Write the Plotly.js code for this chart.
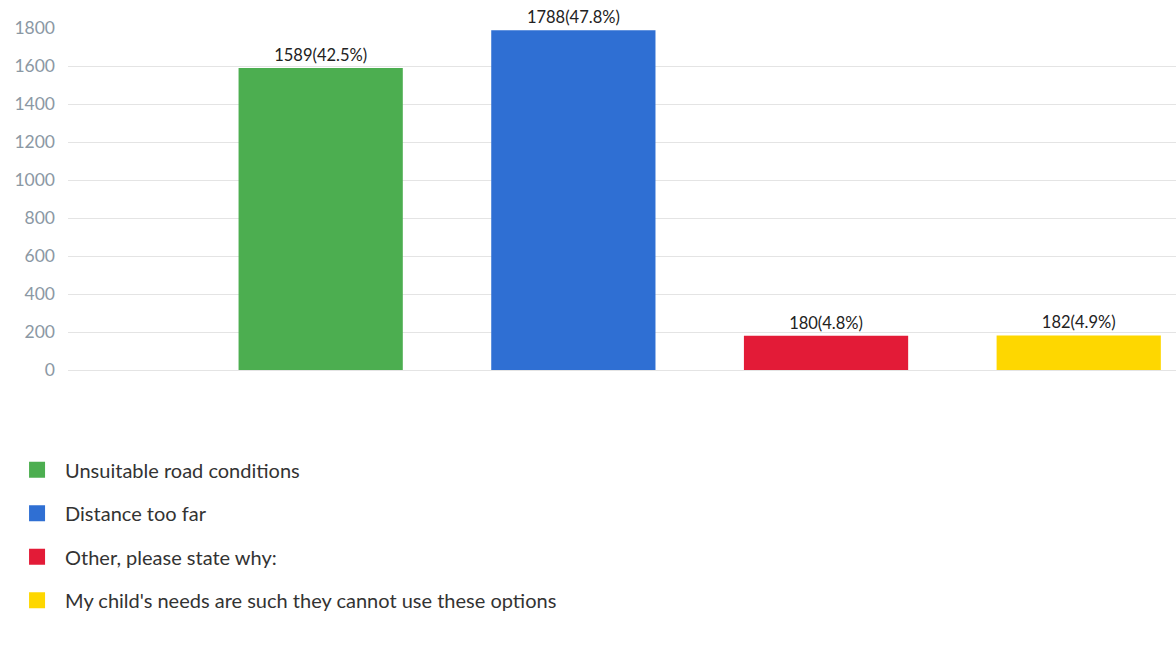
<!DOCTYPE html>
<html>
<head>
<meta charset="utf-8">
<script src="https://cdn.plot.ly/plotly-3.0.1.min.js"></script>
<style>html,body{margin:0;padding:0;background:#fff;}#chart{width:1176px;height:656px;}</style>
</head>
<body>
<div id="chart"></div>
<script>
const categories = ["Unsuitable road conditions", "Distance too far", "Other, please state why:", "My child's needs are such they cannot use these options"];
const counts = [1589, 1788, 180, 182];
const percents = ["42.5%", "47.8%", "4.8%", "4.9%"];
const colors = ["#4cae50", "#2f6fd3", "#e31b37", "#fed700"];
const yTicks = [0, 200, 400, 600, 800, 1000, 1200, 1400, 1600, 1800];

const bars = categories.map((c, i) => ({
  type: "bar",
  name: c,
  x: [c],
  y: [counts[i]],
  text: [counts[i] + "(" + percents[i] + ")"],
  textposition: "outside",
  cliponaxis: false,
  textfont: {family: "Lato, sans-serif", size: 16.5, color: "#222"},
  marker: {color: colors[i]},
  width: 0.65,
  legendgroup: "g" + i,
  showlegend: false,
  hoverinfo: "none"
}));

// legend entries (square swatches) for each category
const legendItems = categories.map((c, i) => ({
  type: "scatter",
  mode: "markers",
  name: c,
  x: [null],
  y: [null],
  marker: {symbol: "square", size: 20, color: colors[i]},
  legendgroup: "g" + i,
  showlegend: true,
  hoverinfo: "none"
}));

const layout = {
  width: 1176,
  height: 656,
  margin: {l: 68, r: 0, t: 28, b: 286},
  paper_bgcolor: "#fff",
  plot_bgcolor: "#fff",
  barmode: "overlay",
  showlegend: true,
  xaxis: {
    type: "category",
    categoryorder: "array",
    categoryarray: categories,
    range: [-1, 3.385],
    showticklabels: false,
    showgrid: false,
    zeroline: false,
    showline: false,
    ticks: ""
  },
  yaxis: {
    range: [0, 1800],
    tickvals: yTicks,
    ticktext: yTicks.map(String),
    showgrid: true,
    gridcolor: "#e4e4e4",
    gridwidth: 1,
    zeroline: true,
    zerolinecolor: "#e4e4e4",
    zerolinewidth: 1,
    showline: false,
    ticks: "",
    ticklabelstandoff: 12,
    tickfont: {family: "Lato, sans-serif", size: 17.5, color: "#8b98a4"}
  },
  legend: {
    x: -0.0532,
    xanchor: "left",
    y: -0.235,
    yanchor: "top",
    orientation: "v",
    traceorder: "grouped",
    tracegroupgap: 14.5,
    itemwidth: 46,
    font: {family: "Lato, sans-serif", size: 20, color: "#333"},
    bgcolor: "rgba(0,0,0,0)"
  }
};

Plotly.newPlot("chart", bars.concat(legendItems), layout, {displayModeBar: false, staticPlot: true});
</script>
</body>
</html>
